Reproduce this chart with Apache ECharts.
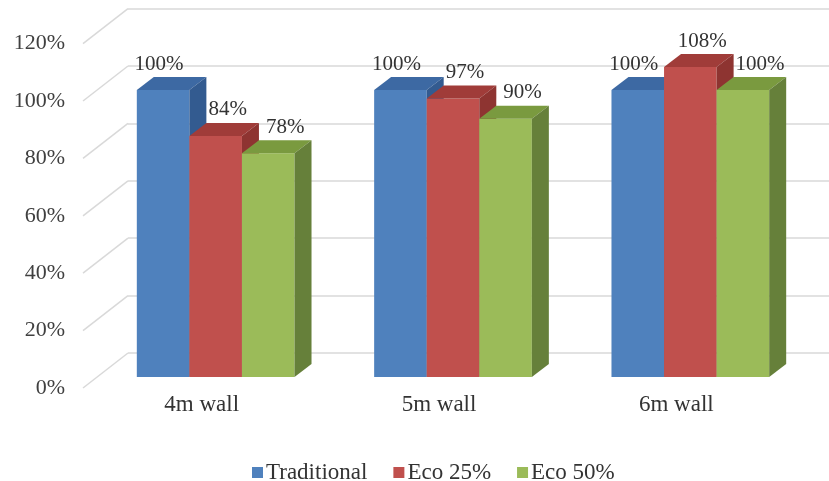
<!DOCTYPE html>
<html>
<head>
<meta charset="utf-8">
<script src="https://cdn.jsdelivr.net/npm/echarts@6/dist/echarts.min.js"></script>
<style>
  html, body { margin: 0; padding: 0; background: #fff; }
  #chart { width: 829px; height: 481px; }
</style>
</head>
<body>
<div id="chart"></div>
<script>
// data
const categories = ['4m wall', '5m wall', '6m wall'];
const traditional = [100, 100, 100];
const eco25 = [84, 97, 108];
const eco50 = [78, 90, 100];
const yTicks = [0, 20, 40, 60, 80, 100, 120];

const FONT = "'Liberation Serif', 'Times New Roman', serif";
// depth of the bars (pixels in the picture) and of the wall
const DX = 17, DY = 13;
const BACK_DX = 31, BACK_DY = 24;
const FRONT_DX = -14, FRONT_DY = 11;
// label shift per series, like the excel placement
const LABEL_SHIFT = [-4, 12, 17];

const chart = echarts.init(document.getElementById('chart'));

// one 3d box per value: front face, top face, right face, label
function boxRenderer(idx, front, top, side) {
    return function (params, api) {
        const cat = api.value(0);
        const val = api.value(1);
        const band = api.size([1, 0])[0];
        const barW = band * 0.2215;
        const c = api.coord([cat, val]);
        const base = api.coord([cat, 0]);
        const x = c[0] - barW * 1.5 + idx * barW;
        const yt = c[1];
        const y0 = base[1];
        return {
            type: 'group',
            children: [
                {
                    type: 'rect',
                    shape: { x: x, y: yt, width: barW, height: y0 - yt },
                    style: { fill: front }
                },
                {
                    type: 'polygon',
                    shape: { points: [[x, yt], [x + DX, yt - DY], [x + barW + DX, yt - DY], [x + barW, yt]] },
                    style: { fill: top }
                },
                {
                    type: 'polygon',
                    shape: { points: [[x + barW, yt], [x + barW + DX, yt - DY], [x + barW + DX, y0 - DY], [x + barW, y0]] },
                    style: { fill: side }
                },
                {
                    type: 'text',
                    x: x + barW / 2 + LABEL_SHIFT[idx],
                    y: yt - DY - 13,
                    z2: 10,
                    style: {
                        text: val + '%',
                        fill: '#333',
                        font: '21px ' + FONT,
                        align: 'center',
                        verticalAlign: 'middle'
                    }
                }
            ]
        };
    };
}

function toPairs(arr) {
    return arr.map(function (v, i) { return [i, v]; });
}

const option = {
    backgroundColor: '#fff',
    animation: false,
    legend: {
        data: ['Traditional', 'Eco 25%', 'Eco 50%'],
        left: 247,
        top: 456,
        icon: 'rect',
        itemWidth: 11,
        itemHeight: 11,
        itemGap: 26,
        textStyle: { fontFamily: FONT, fontSize: 23, color: '#333', padding: [0, 0, 0, -2] }
    },
    grid: [
        // bar plane
        { left: 97, right: 20, top: 32.6, bottom: 104, outerBoundsMode: 'none' },
        // back wall
        { left: 128, right: -40, top: 8.6, bottom: 128, outerBoundsMode: 'none' },
        // front edge (labels)
        { left: 83, right: 34, top: 43.6, bottom: 93, outerBoundsMode: 'none' }
    ],
    xAxis: [
        { gridIndex: 0, type: 'category', data: categories, show: false },
        { gridIndex: 1, type: 'value', show: false },
        {
            gridIndex: 2, type: 'category', data: categories,
            axisLine: { show: false }, axisTick: { show: false },
            axisLabel: { fontFamily: FONT, fontSize: 23, color: '#333', margin: 5 }
        }
    ],
    yAxis: [
        { gridIndex: 0, type: 'value', min: 0, max: 120, interval: 20, show: false },
        {
            gridIndex: 1, type: 'value', min: 0, max: 120, interval: 20,
            axisLabel: { show: false }, axisLine: { show: false }, axisTick: { show: false },
            splitLine: { lineStyle: { color: '#d9d9d9', width: 1.5 } }
        },
        {
            gridIndex: 2, type: 'value', min: 0, max: 120, interval: 20,
            axisLine: { show: false }, axisTick: { show: false }, splitLine: { show: false },
            axisLabel: { fontFamily: FONT, fontSize: 22, color: '#404040', margin: 18, formatter: '{value}%' }
        }
    ],
    series: [
        {
            // side wall lines
            type: 'custom',
            name: 'wall',
            xAxisIndex: 0, yAxisIndex: 0,
            silent: true,
            z: 1,
            data: yTicks.map(function (v) { return [0, v]; }),
            renderItem: function (params, api) {
                const y = api.coord([0, api.value(1)])[1];
                const x0 = params.coordSys.x;
                return {
                    type: 'line',
                    shape: { x1: x0 + FRONT_DX, y1: y + FRONT_DY, x2: x0 + BACK_DX, y2: y - BACK_DY },
                    style: { stroke: '#d9d9d9', lineWidth: 1.5 }
                };
            }
        },
        {
            type: 'custom', name: 'Traditional', xAxisIndex: 0, yAxisIndex: 0, z: 3,
            itemStyle: { color: '#4F81BD' },
            data: toPairs(traditional),
            renderItem: boxRenderer(0, '#4F81BD', '#3D69A3', '#335B90')
        },
        {
            type: 'custom', name: 'Eco 25%', xAxisIndex: 0, yAxisIndex: 0, z: 4,
            itemStyle: { color: '#C0504D' },
            data: toPairs(eco25),
            renderItem: boxRenderer(1, '#C0504D', '#A03C39', '#8E3431')
        },
        {
            type: 'custom', name: 'Eco 50%', xAxisIndex: 0, yAxisIndex: 0, z: 5,
            itemStyle: { color: '#9BBB59' },
            data: toPairs(eco50),
            renderItem: boxRenderer(2, '#9BBB59', '#7A9A3F', '#66803A')
        }
    ]
};

chart.setOption(option);
</script>
</body>
</html>
